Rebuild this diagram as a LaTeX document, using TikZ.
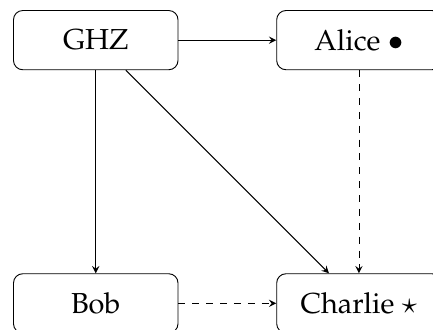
\documentclass[tikz,border=0pt]{standalone}
\usepackage[T1]{fontenc}
\usepackage{mathpazo}
\usepackage{tikz}
\usepackage{amssymb}
\usepackage{amsmath}

\begin{document}
\begin{tikzpicture}[>=stealth,
    party/.style={draw, rounded corners=4pt, minimum width=2.5cm, minimum height=0.9cm,
      font=\fontsize{12.5}{15}\selectfont}]
  \useasboundingbox (-1.455, 0.61) rectangle (5.125, -4.39);
  \begin{scope}
    \node[party] (ghz) at (0,0) {GHZ};
    \node[party] (alice) at (4,0) {Alice $\bullet$};
    \node[party] (bob) at (0,-4) {Bob};
    \node[party] (charlie) at (4,-4) {Charlie $\star$};

    \draw[->] (ghz) -- (alice);
    \draw[->] (ghz) -- (bob);
    \draw[->] (ghz) -- (charlie);
    \draw[->, dashed] (alice) -- (charlie);
    \draw[->, dashed] (bob) -- (charlie);
  \end{scope}
\end{tikzpicture}
\end{document}
